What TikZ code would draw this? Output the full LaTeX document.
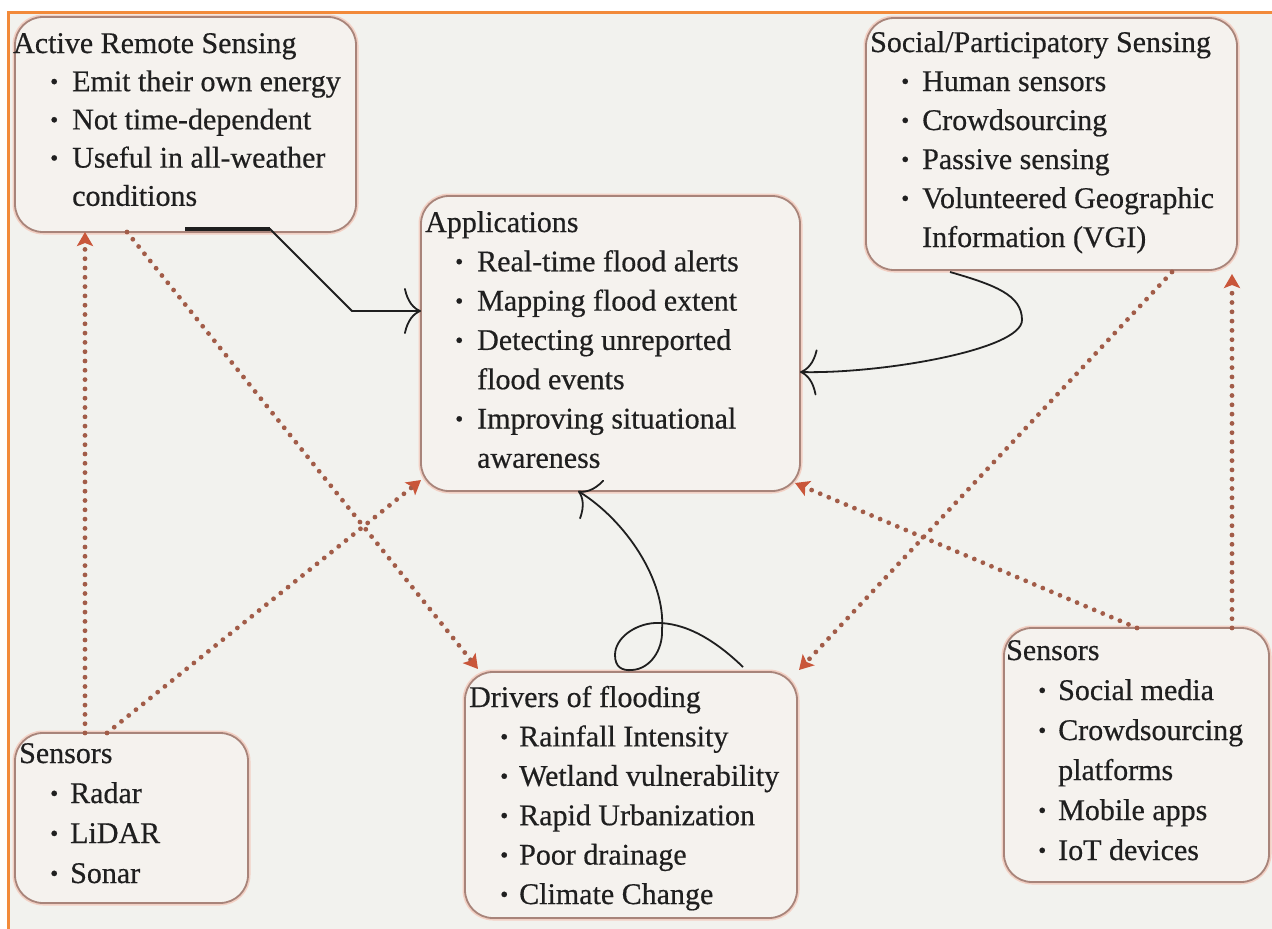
\documentclass[tikz,border=0pt]{standalone}
\usepackage{fontspec}
\setmainfont{Liberation Serif}[FakeBold=0.5]
\usetikzlibrary{arrows.meta,calc}
\definecolor{bgc}{HTML}{F2F2EE}
\definecolor{boxfill}{HTML}{F5F2EE}
\definecolor{boxc}{HTML}{A8847A}
\definecolor{halo}{HTML}{F2D0C4}
\definecolor{framec}{HTML}{F28A3A}
\definecolor{dotc}{HTML}{A25C48}
\definecolor{tipc}{HTML}{C9563A}
\definecolor{ink}{HTML}{1F1F1F}
\newlength\bulind
\newlength\txtind
\newcommand\bitem[1]{\hbox{\hskip\bulind\makebox[\dimexpr\txtind-\bulind\relax][l]{\raisebox{2pt}{\fontsize{23}{23}\selectfont\textbullet}}#1}}
\newcommand\bcont[1]{\hbox{\hskip\txtind #1}}
\begin{document}
\begin{tikzpicture}[x=1pt,y=-1pt,
  box/.style={preaction={draw=halo,line width=5pt}, draw=boxc, line width=1.8pt, fill=boxfill,
    rounded corners=28pt, anchor=north west, inner sep=0pt, outer sep=0pt},
  txt/.style={anchor=base west, inner sep=0pt, text=ink},
  blk/.style={draw=ink, line width=1.8pt, -{Computer Modern Rightarrow[length=17pt,width=46pt,line width=1.8pt]}},
  dots/.style={draw=dotc, line width=4.8pt, line cap=round, dash pattern=on 0pt off 9.3pt,
    -{Stealth[length=14pt,width=16pt,inset=3pt,color=tipc]}}
]
\useasboundingbox (0,0) rectangle (1272,929);
\fill[white] (0,0) rectangle (1272,929);
\fill[bgc] (8,12) rectangle (1272,929);
\draw[framec, line width=3pt] (8,929) -- (8,12) -- (1272,12);

% boxes
\node[box, minimum width=341pt, minimum height=215pt] (ars) at (15,17) {};
\node[box, minimum width=379pt, minimum height=295pt] (app) at (421,196) {};
\node[box, minimum width=371pt, minimum height=252pt] (soc) at (866,18) {};
\node[box, minimum width=332pt, minimum height=246pt] (drv) at (465,672) {};
\node[box, minimum width=233pt, minimum height=170pt] (senL) at (15,733) {};
\node[box, minimum width=265pt, minimum height=254pt] (senR) at (1004,628) {};

% solid connectors
\draw[ink, line width=4pt] ($(ars.south west)+(170,-3)$) -- ++(85,0);
\draw[blk] ($(ars.south west)+(170,-3)$) -- ++(85,0) -- ++(82,82) -- ($(app.north west)+(0,115)$);
\draw[blk] ($(soc.south west)+(84,2)$) .. controls (995,285) and (1022,295) .. (1022,320)
  .. controls (1022,350) and (880,374) .. ($(app.north east)+(0,176)$);
\draw[blk] ($(drv.north west)+(278,-5)$) .. controls (715,640) and (685,622) .. (655,623)
  .. controls (635,624) and (615,638) .. (615,655)
  .. controls (615,667) and (622,671) .. (632,670)
  .. controls (650,669) and (663,650) .. (662,630)
  .. controls (666,580) and (625,520) .. ($(app.south west)+(157,0)$);

% dotted connectors
\draw[dots] ($(senL.north west)+(70,0)$) -- ($(ars.south west)+(70,0)$);
\draw[dots] ($(senL.north west)+(92,0)$) -- ($(app.south west)+(0,-11)$);
\draw[dots] ($(ars.south west)+(112,0)$) -- ($(drv.north west)+(13,-3)$);
\draw[dots] ($(soc.south west)+(306,2)$) -- ($(drv.north east)+(2,-2)$);
\draw[dots] ($(senR.north west)+(228,0)$) -- ($(soc.south west)+(366,4)$);
\draw[dots] ($(senR.north west)+(133,0)$) -- ($(app.south east)+(-5,-8)$);

% texts
\node[txt] (arsT) at (13,53) {\setlength\bulind{37pt}\setlength\txtind{59pt}\vtop{\fontsize{30}{38.2}\selectfont
  \hbox{Active Remote Sensing}
  \bitem{Emit their own energy}
  \bitem{Not time-dependent}
  \bitem{Useful in all-weather}
  \bcont{conditions}}};
\node[txt] (appT) at (425,232) {\setlength\bulind{30pt}\setlength\txtind{52pt}\vtop{\fontsize{30}{39.3}\selectfont
  \hbox{Applications}
  \bitem{Real-time flood alerts}
  \bitem{Mapping flood extent}
  \bitem{Detecting unreported}
  \bcont{flood events}
  \bitem{Improving situational}
  \bcont{awareness}}};
\node[txt] (socT) at (870,52) {\setlength\bulind{31pt}\setlength\txtind{52pt}\vtop{\fontsize{30}{39}\selectfont
  \hbox{Social/Participatory Sensing}
  \bitem{Human sensors}
  \bitem{Crowdsourcing}
  \bitem{Passive sensing}
  \bitem{Volunteered Geographic}
  \bcont{Information (VGI)}}};
\node[txt] (drvT) at (469,707) {\setlength\bulind{31pt}\setlength\txtind{50pt}\vtop{\fontsize{30}{39.4}\selectfont
  \hbox{Drivers of flooding}
  \bitem{Rainfall Intensity}
  \bitem{Wetland vulnerability}
  \bitem{Rapid Urbanization}
  \bitem{Poor drainage}
  \bitem{Climate Change}}};
\node[txt] (senLT) at (19,763) {\setlength\bulind{31pt}\setlength\txtind{51pt}\vtop{\fontsize{30}{40}\selectfont
  \hbox{Sensors}
  \bitem{Radar}
  \bitem{LiDAR}
  \bitem{Sonar}}};
\node[txt] (senRT) at (1006,660) {\setlength\bulind{32pt}\setlength\txtind{52pt}\vtop{\fontsize{30}{40}\selectfont
  \hbox{Sensors}
  \bitem{Social media}
  \bitem{Crowdsourcing}
  \bcont{platforms}
  \bitem{Mobile apps}
  \bitem{IoT devices}}};
\end{tikzpicture}
\end{document}
